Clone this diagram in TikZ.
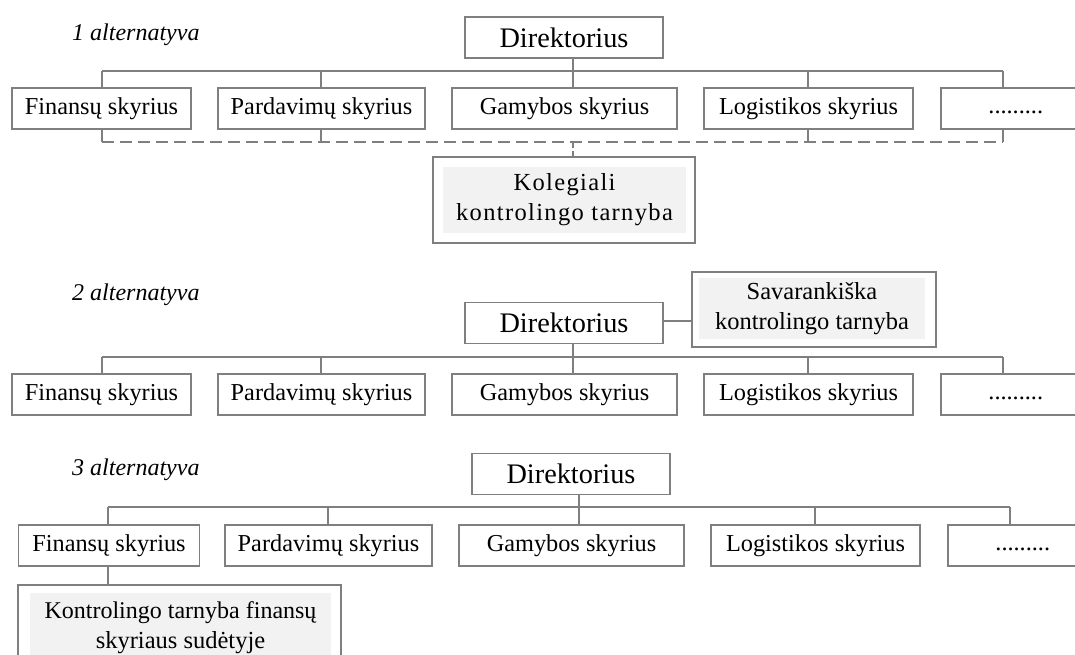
\documentclass[tikz,border=0pt]{standalone}
\usepackage{fontspec}
\setmainfont{Liberation Serif}
\definecolor{linegray}{HTML}{7F7F7F}
\definecolor{fillgray}{HTML}{F2F2F2}
\newcommand{\moredots}{\makebox[128pt][c]{\vphantom{Fy}.........}\hspace{22pt}}
\begin{document}
\begin{tikzpicture}[x=1pt,y=-1pt,
  unit/.style={draw=linegray, line width=1.5pt, rectangle, inner sep=0pt,
    minimum height=41pt, font=\fontsize{24.3}{29}\selectfont},
  chief/.style={unit, minimum width=198pt, font=\fontsize{28.3}{34}\selectfont},
  outerbox/.style={draw=linegray, line width=1.5pt, rectangle, inner sep=0pt},
  innerbox/.style={fill=fillgray, rectangle, inner sep=0pt, align=center,
    font=\fontsize{24.5}{30}\selectfont},
  caption/.style={anchor=west, inner sep=0pt, font=\fontsize{24}{29}\itshape},
  link/.style={draw=linegray, line width=1.3pt},
  dlink/.style={link, dash pattern=on 12pt off 6pt}
]
\useasboundingbox (0,0) rectangle (1075,655);
\clip (0,0) rectangle (1075,655);

% ---------- first variant: collegial controlling service ----------
\node[caption] (c1) at (72,35) {1 alternatyva};
\node[chief] (d1) at (564,37.5) {Direktorius};
\node[unit, minimum width=179pt] (f1) at (101.5,108.5) {Finansų skyrius};
\node[unit, minimum width=207pt] (p1) at (321.5,108.5) {Pardavimų skyrius};
\node[unit, minimum width=225pt] (g1) at (564.5,108.5) {Gamybos skyrius};
\node[unit, minimum width=209pt] (l1) at (808.5,108.5) {Logistikos skyrius};
\node[unit, minimum width=150pt, anchor=west] (e1) at (940,108.5) {\moredots};
\coordinate (b1w) at (102,71);
\coordinate (b1e) at (1003,71);
\draw[link] (b1w) -- (b1e);
\draw[link] (d1.south -| 573,0) -- (g1.north -| 573,0);
\draw[link] (b1w) -- (f1.north -| b1w);
\draw[link] (321,71) -- (p1.north -| 321,0);
\draw[link] (808,71) -- (l1.north -| 808,0);
\draw[link] (b1e) -- (e1.north -| b1e);
% dashed collector below the departments
\coordinate (k1w) at (102,142);
\coordinate (k1e) at (1003,142);
\draw[link] (f1.south -| k1w) -- (k1w);
\draw[link] (p1.south -| 321,0) -- (321,142);
\draw[link] (l1.south -| 808,0) -- (808,142);
\draw[link] (e1.south -| k1e) -- (k1e);
\draw[dlink] (k1w) -- (k1e);
\node[outerbox, minimum width=262pt, minimum height=86pt] (ko1) at (564,200) {};
\node[innerbox, minimum width=243pt, minimum height=66pt,
  font={\fontsize{24.5}{30}\selectfont\addfontfeatures{LetterSpace=5.5}}] (ki1) at (564.5,200)
  {Kolegiali\\kontrolingo tarnyba};
\draw[link, dash pattern=on 6pt off 3pt] (573,142) -- (ko1.north -| 573,0);

% ---------- second variant: independent controlling service ----------
\node[caption] (c2) at (72,295) {2 alternatyva};
\node[chief] (d2) at (564,323) {Direktorius};
\node[outerbox, minimum width=244pt, minimum height=75pt] (so2) at (814,309.5) {};
\node[innerbox, minimum width=226pt, minimum height=61pt] (si2) at (812,308.5)
  {Savarankiška\\kontrolingo tarnyba};
\draw[link] (d2.east |- 0,321) -- (so2.west |- 0,321);
\node[unit, minimum width=179pt] (f2) at (101.5,394.5) {Finansų skyrius};
\node[unit, minimum width=207pt] (p2) at (321.5,394.5) {Pardavimų skyrius};
\node[unit, minimum width=225pt] (g2) at (564.5,394.5) {Gamybos skyrius};
\node[unit, minimum width=209pt] (l2) at (808.5,394.5) {Logistikos skyrius};
\node[unit, minimum width=150pt, anchor=west] (e2) at (940,394.5) {\moredots};
\coordinate (b2w) at (102,357);
\coordinate (b2e) at (1003,357);
\draw[link] (b2w) -- (b2e);
\draw[link] (d2.south -| 573,0) -- (g2.north -| 573,0);
\draw[link] (b2w) -- (f2.north -| b2w);
\draw[link] (321,357) -- (p2.north -| 321,0);
\draw[link] (808,357) -- (l2.north -| 808,0);
\draw[link] (b2e) -- (e2.north -| b2e);

% ---------- third variant: service inside the finance department ----------
\node[caption] (c3) at (72,470) {3 alternatyva};
\node[chief] (d3) at (571,474) {Direktorius};
\node[unit, minimum width=181pt] (f3) at (109,545.5) {Finansų skyrius};
\node[unit, minimum width=207pt] (p3) at (328.5,545.5) {Pardavimų skyrius};
\node[unit, minimum width=225pt] (g3) at (571.5,545.5) {Gamybos skyrius};
\node[unit, minimum width=209pt] (l3) at (815.5,545.5) {Logistikos skyrius};
\node[unit, minimum width=150pt, anchor=west] (e3) at (947,545.5) {\moredots};
\coordinate (b3w) at (108,507);
\coordinate (b3e) at (1010,507);
\draw[link] (b3w) -- (b3e);
\draw[link] (d3.south -| 579,0) -- (g3.north -| 579,0);
\draw[link] (b3w) -- (f3.north -| b3w);
\draw[link] (328,507) -- (p3.north -| 328,0);
\draw[link] (815,507) -- (l3.north -| 815,0);
\draw[link] (b3e) -- (e3.north -| b3e);
\node[outerbox, minimum width=323pt, minimum height=100pt, anchor=north] (ko3) at (179.5,584) {};
\node[innerbox, minimum width=301pt, minimum height=68pt, anchor=north] (ki3) at (180.5,593)
  {\fontsize{24}{27}\selectfont Kontrolingo tarnyba finansų\\skyriaus sudėtyje};
\fill[fillgray] (ki3.south west) rectangle ([yshift=-20pt]ki3.south east);
\draw[link] (f3.south -| 108,0) -- (ko3.north -| 108,0);
\end{tikzpicture}
\end{document}
